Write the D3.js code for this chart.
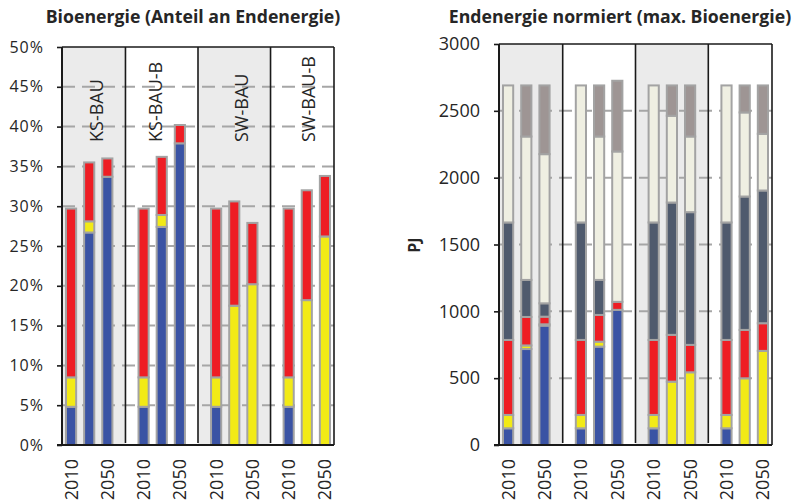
<!DOCTYPE html>
<html><head><meta charset="utf-8">
<script src="https://cdn.jsdelivr.net/npm/d3@7"></script>
<style>
body{margin:0;background:#fff}
svg{display:block}
text{font-family:"Open Sans",sans-serif;fill:#262626}
</style>
</head><body><svg id="c" width="804" height="504"></svg>
<script>
// ---------------- data ----------------
const scenarios = ["KS-BAU", "KS-BAU-B", "SW-BAU", "SW-BAU-B"];
const years = ["2010", "2030", "2050"];
const yearTickLabels = ["2010", "", "2050"];
const leftTitle = "Bioenergie (Anteil an Endenergie)";
const rightTitle = "Endenergie normiert (max. Bioenergie)";
const rightAxisLabel = "PJ";
const leftTicks = [0, 5, 10, 15, 20, 25, 30, 35, 40, 45, 50];
const rightTicks = [0, 500, 1000, 1500, 2000, 2500, 3000];

// left panel: share of final energy in %, per scenario [2010, 2030, 2050]
const shareBlue   = [[4.8, 26.7, 33.7], [4.8, 27.4, 37.9], [4.8, 0, 0],       [4.8, 0, 0]];
const shareYellow = [[3.7, 1.4, 0],     [3.7, 1.5, 0],     [3.7, 17.5, 20.2], [3.7, 18.2, 26.2]];
const shareRed    = [[21.2, 7.4, 2.3],  [21.2, 7.3, 2.3],  [21.2, 13.1, 7.7], [21.2, 13.8, 7.6]];

// right panel: final energy in PJ, per scenario [2010, 2030, 2050]
const pjBlue   = [[125, 718, 893],   [125, 736, 1011],  [125, 0, 0],     [125, 0, 0]];
const pjYellow = [[100, 27, 10],     [100, 37, 0],      [100, 474, 544], [100, 499, 704]];
const pjRed    = [[561, 213, 57],    [561, 200, 60],    [561, 350, 205], [561, 362, 207]];
const pjSlate  = [[879, 277, 100],   [879, 262, 0],     [879, 990, 993], [879, 998, 993]];
const pjBeige  = [[1025, 1073, 1116],[1025, 1073, 1125],[1025, 649, 566],[1025, 629, 424]];
const pjMauve  = [[0, 382, 514],     [0, 382, 529],     [0, 227, 382],   [0, 202, 362]];

// ---------------- styles ----------------
const COL = {blue: "#3a53a4", yellow: "#f2ea16", red: "#ee1d24", slate: "#4f5a6d", beige: "#efefe2", mauve: "#9e9594"};
const BG = "#ebebeb", GRID = "#a6a6a6", BARSTROKE = "#a3a3a3", AXIS = "#1a1a1a";

const svg = d3.select("#c");

function panel(opt) {
  const g = svg.append("g");
  const nSlots = scenarios.length * 4 - 1;
  const slot = d3.scaleBand().domain(d3.range(nSlots)).range([opt.x0, opt.x1]).padding(0);
  const y = d3.scaleLinear().domain(opt.domain).range([opt.y1, opt.y0]);
  const bw = slot.bandwidth();
  const barW = bw * 0.56;
  const slotOf = (s, k) => s * 4 + k;

  // gray backgrounds for scenarios 1 and 3
  scenarios.forEach((sc, s) => {
    if (s % 2 === 0) {
      const left = s === 0 ? opt.x0 : slot(slotOf(s, 0) - 1) + bw / 2;
      const right = s === scenarios.length - 1 ? opt.x1 : slot(slotOf(s, 3)) + bw / 2;
      g.append("rect").attr("x", left).attr("y", opt.y0).attr("width", right - left)
        .attr("height", opt.y1 - opt.y0).attr("fill", BG);
    }
  });

  // dashed gridlines
  g.append("g").selectAll("line").data(opt.ticks.slice(1, -1)).join("line")
    .attr("x1", opt.x0).attr("x2", opt.x1)
    .attr("y1", d => y(d)).attr("y2", d => y(d))
    .attr("stroke", GRID).attr("stroke-width", 2).attr("stroke-dasharray", "13,7");

  // separators
  scenarios.slice(1).forEach((sc, i) => {
    const xs = slot(slotOf(i + 1, 0) - 1) + bw / 2;
    g.append("line").attr("x1", xs).attr("x2", xs).attr("y1", opt.y0).attr("y2", opt.y1 - 2)
      .attr("stroke", AXIS).attr("stroke-width", 1.6);
  });

  // stacked bars
  const rows = [];
  scenarios.forEach((sc, s) => years.forEach((yr, k) => {
    let cum = 0;
    opt.series.forEach(ser => {
      const v = ser.values[s][k];
      if (v > 0) rows.push({s, k, y0: cum, y1: cum + v, color: ser.color});
      cum += v;
    });
  }));
  g.append("g").selectAll("rect").data(rows).join("rect")
    .attr("x", d => slot(slotOf(d.s, d.k)) + (bw - barW) / 2)
    .attr("width", barW)
    .attr("y", d => y(d.y1))
    .attr("height", d => y(d.y0) - y(d.y1))
    .attr("fill", d => d.color)
    .attr("stroke", BARSTROKE).attr("stroke-width", 2);

  // y axis
  const ax = g.append("g").attr("transform", `translate(${opt.x0},0)`)
    .call(d3.axisLeft(y).tickValues(opt.ticks).tickSize(5).tickPadding(opt.pad).tickFormat(opt.fmt));
  ax.select(".domain").remove();
  ax.selectAll(".tick line").attr("stroke", AXIS).attr("stroke-width", 1.6);
  ax.selectAll(".tick text").attr("font-size", opt.tickFont).attr("fill", "#262626")
    .attr("font-family", '"Open Sans",sans-serif').style("letter-spacing", opt.ls || "0px");

  // frame
  g.append("line").attr("x1", opt.x0).attr("x2", opt.x0).attr("y1", opt.y0).attr("y2", opt.y1)
    .attr("stroke", AXIS).attr("stroke-width", 2);
  g.append("line").attr("x1", opt.x0 - 5).attr("x2", opt.x1).attr("y1", opt.y1).attr("y2", opt.y1)
    .attr("stroke", AXIS).attr("stroke-width", 2);
  g.append("line").attr("x1", opt.x0).attr("x2", opt.x1).attr("y1", opt.y0).attr("y2", opt.y0)
    .attr("stroke", AXIS).attr("stroke-width", 1.6);
  g.append("line").attr("x1", opt.x1).attr("x2", opt.x1).attr("y1", opt.y0).attr("y2", opt.y1)
    .attr("stroke", AXIS).attr("stroke-width", 1.6);

  // x tick labels (rotated)
  scenarios.forEach((sc, s) => yearTickLabels.forEach((lab, k) => {
    if (!lab) return;
    const cx = slot(slotOf(s, k)) + bw / 2;
    g.append("text").attr("transform", `translate(${cx},${opt.y1 + 14}) rotate(-90)`)
      .attr("text-anchor", "end").attr("dy", "0.36em").attr("font-size", 18).text(lab);
  }));

  // title
  g.append("text").attr("x", opt.titleX).attr("y", 23).attr("text-anchor", "middle")
    .attr("font-size", 17.7).attr("font-weight", 700).text(opt.title);

  // scenario labels
  if (opt.groupLabels) {
    const nudge = [7, -6, 7, 2];
    scenarios.forEach((sc, s) => {
      const cx = slot(slotOf(s, 1)) + bw / 2 + nudge[s];
      g.append("text").attr("transform", `translate(${cx},142) rotate(-90)`)
        .attr("text-anchor", "start").attr("dy", "0.36em").attr("font-size", 18).text(sc);
    });
  }
  return {g, y};
}

panel({
  x0: 62, x1: 334, y0: 47, y1: 445, domain: [0, 50], ticks: leftTicks,
  fmt: d => d + "%", tickFont: 16, pad: 13, ls: "1px",
  series: [
    {values: shareBlue, color: COL.blue},
    {values: shareYellow, color: COL.yellow},
    {values: shareRed, color: COL.red}
  ],
  title: leftTitle, titleX: 193, groupLabels: true
});

panel({
  x0: 499, x1: 772, y0: 44, y1: 445, domain: [0, 3000], ticks: rightTicks,
  fmt: d => String(d), tickFont: 18, pad: 14,
  series: [
    {values: pjBlue, color: COL.blue},
    {values: pjYellow, color: COL.yellow},
    {values: pjRed, color: COL.red},
    {values: pjSlate, color: COL.slate},
    {values: pjBeige, color: COL.beige},
    {values: pjMauve, color: COL.mauve}
  ],
  title: rightTitle, titleX: 620, groupLabels: false
});

svg.append("text").attr("transform", "translate(414,245) rotate(-90)")
  .attr("text-anchor", "middle").attr("dy", "0.36em")
  .attr("font-size", 16).attr("font-weight", 700).text(rightAxisLabel);
</script>
</body></html>
